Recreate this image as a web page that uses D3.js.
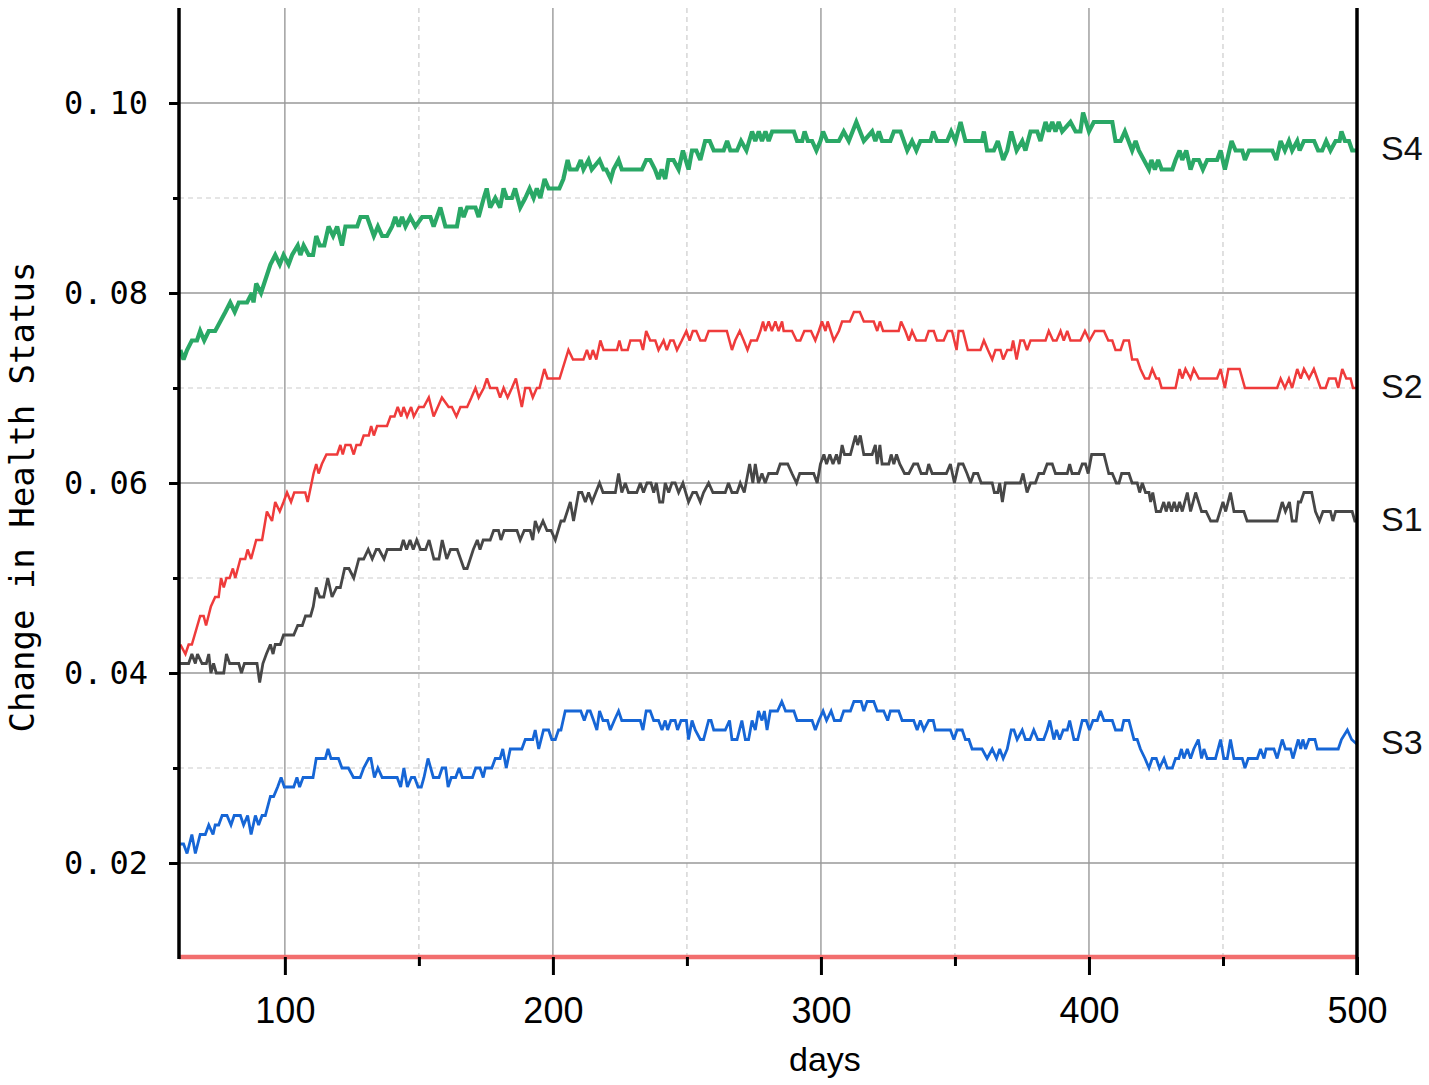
<!DOCTYPE html>
<html><head><meta charset="utf-8">
<script src="https://cdn.jsdelivr.net/npm/d3@7/dist/d3.min.js"></script>
<style>body{margin:0;background:#fff;} svg{display:block;}</style>
</head><body>
<svg id="chart" width="1429" height="1085"></svg>
<script>
// ---------- data: [day, change in health status] ----------
const s4 = [[61,0.074],[62.2,0.073],[63.5,0.074],[65.3,0.075],[67.2,0.075],[68.4,0.076],[69.9,0.075],[71.6,0.076],[74,0.076],[75.9,0.077],[77.8,0.078],[79.6,0.079],[81.3,0.078],[82.8,0.079],[85.9,0.079],[87.7,0.080],[88.3,0.079],[89.3,0.081],[91.1,0.080],[94.6,0.083],[96.4,0.084],[98.1,0.083],[99.5,0.084],[101.4,0.083],[102.7,0.084],[104.8,0.085],[105.8,0.084],[107,0.085],[108.9,0.084],[110.5,0.084],[111.7,0.086],[113,0.085],[114.7,0.085],[116.3,0.087],[118,0.086],[119.5,0.087],[121.3,0.085],[122.6,0.087],[127,0.087],[128.2,0.088],[130.7,0.088],[133.2,0.086],[134.7,0.087],[136.3,0.086],[138.1,0.086],[140,0.087],[141.2,0.088],[142.5,0.087],[143.7,0.088],[145,0.087],[146.8,0.088],[148.7,0.087],[151.2,0.088],[154.3,0.088],[155.5,0.087],[158,0.089],[159.9,0.087],[164.2,0.087],[165.5,0.089],[166.7,0.088],[168,0.089],[171.1,0.089],[172.3,0.088],[174.2,0.090],[175.3,0.091],[176.6,0.089],[178.5,0.090],[180.3,0.089],[181.6,0.091],[182.8,0.090],[184.7,0.090],[185.9,0.091],[187.8,0.089],[189.7,0.090],[191.3,0.091],[192.8,0.090],[194,0.091],[195.3,0.090],[196.9,0.092],[198.4,0.091],[202.4,0.091],[203.9,0.092],[205.5,0.094],[206.4,0.093],[208.9,0.093],[210.4,0.094],[211.4,0.093],[213.3,0.094],[214.5,0.093],[217.4,0.094],[218.9,0.093],[219.9,0.093],[221.6,0.092],[222.6,0.093],[224.5,0.094],[225.7,0.093],[233.2,0.093],[234.8,0.094],[236.3,0.094],[238.1,0.093],[239.4,0.092],[240.6,0.093],[241.9,0.092],[243.1,0.094],[245,0.094],[246.9,0.093],[248.5,0.095],[250.6,0.093],[251.9,0.095],[253.5,0.095],[255,0.094],[256.8,0.096],[258.5,0.096],[260,0.095],[263.7,0.095],[265,0.096],[266.2,0.095],[268.7,0.095],[270.2,0.096],[272.2,0.095],[274.3,0.097],[275.5,0.096],[276.8,0.097],[278,0.096],[279.3,0.097],[280.5,0.096],[281.8,0.097],[283,0.097],[289.9,0.097],[291.1,0.096],[293,0.096],[293.9,0.097],[295.1,0.096],[296.7,0.096],[298.3,0.095],[299.8,0.096],[300.8,0.097],[302.3,0.096],[306.7,0.096],[308.5,0.097],[310.4,0.096],[313.2,0.098],[316,0.096],[319.1,0.097],[320.3,0.096],[321.6,0.097],[322.8,0.096],[325.9,0.096],[327.2,0.097],[329.7,0.097],[332.2,0.095],[334,0.096],[335.6,0.095],[337.1,0.096],[340.9,0.096],[341.9,0.097],[343.3,0.096],[347.1,0.096],[348.6,0.097],[350.2,0.096],[352.1,0.098],[353.9,0.096],[360.1,0.096],[360.8,0.097],[362,0.095],[364.5,0.095],[366,0.096],[368,0.094],[369.5,0.095],[371,0.097],[373,0.095],[375.1,0.096],[376.3,0.095],[378.2,0.097],[380.7,0.097],[381.9,0.096],[383.8,0.098],[385,0.097],[386.3,0.098],[387.5,0.097],[388.7,0.098],[390,0.097],[393.1,0.098],[395,0.097],[396.8,0.097],[397.8,0.099],[400,0.097],[401.8,0.098],[408.7,0.098],[409.9,0.096],[411.8,0.096],[413.4,0.097],[416.1,0.095],[417.4,0.096],[418.6,0.095],[420.5,0.094],[422.4,0.093],[423.3,0.094],[424.6,0.093],[425.8,0.094],[427.1,0.093],[431.1,0.093],[432.3,0.094],[433.8,0.095],[434.8,0.094],[436.3,0.095],[437.9,0.093],[439.1,0.094],[441,0.094],[442.5,0.093],[444.1,0.094],[447.8,0.094],[449.1,0.095],[450.7,0.093],[453.2,0.096],[454.7,0.095],[457.2,0.095],[458.2,0.094],[459.7,0.095],[468.4,0.095],[469.9,0.094],[471.5,0.096],[473.1,0.095],[474.6,0.096],[475.8,0.095],[477.7,0.096],[478.6,0.095],[480.2,0.096],[484,0.096],[485.5,0.095],[487,0.095],[488.5,0.096],[490.1,0.095],[492,0.096],[493.5,0.096],[494.2,0.097],[495.5,0.096],[497,0.096],[498.2,0.095],[500,0.095]];

const s2 = [[61,0.043],[62.9,0.042],[64.1,0.043],[65.3,0.043],[68.4,0.046],[69.7,0.046],[70.6,0.045],[72.4,0.047],[74,0.048],[75.3,0.048],[76.2,0.050],[77.2,0.049],[78.2,0.050],[79.4,0.050],[80.6,0.051],[81.5,0.050],[83.4,0.052],[85.2,0.052],[86.1,0.053],[87.4,0.052],[89.3,0.054],[91.5,0.054],[93.3,0.057],[95.2,0.056],[96.4,0.058],[98.1,0.057],[99.5,0.058],[100.8,0.059],[102.3,0.058],[103.5,0.059],[107.6,0.059],[108.5,0.058],[110.7,0.061],[111.7,0.062],[112.6,0.061],[113.8,0.062],[115.5,0.063],[119.5,0.063],[120.7,0.064],[121.6,0.063],[122.6,0.064],[124.5,0.064],[125.7,0.063],[126.7,0.064],[128.2,0.064],[129.4,0.065],[131.3,0.065],[132.2,0.066],[133.2,0.065],[134.4,0.066],[138.1,0.066],[139.4,0.067],[140.9,0.067],[142.1,0.068],[143.4,0.067],[144.3,0.068],[145.6,0.067],[147.1,0.068],[148.1,0.067],[150,0.068],[151.8,0.068],[153.7,0.069],[155.5,0.067],[158.6,0.069],[161.1,0.068],[162.3,0.068],[164,0.067],[165.5,0.068],[168,0.068],[169.6,0.069],[171.1,0.070],[172.3,0.069],[174.2,0.070],[175.4,0.071],[176.6,0.070],[179.1,0.070],[180.3,0.069],[181.6,0.070],[183.1,0.069],[184.7,0.070],[186.2,0.071],[188.4,0.068],[189.7,0.070],[191.3,0.070],[192.5,0.069],[194,0.070],[195,0.070],[196.8,0.072],[198,0.071],[202.5,0.071],[205.8,0.074],[207.5,0.073],[211.4,0.073],[212.7,0.074],[213.9,0.073],[214.9,0.074],[216.2,0.073],[217.7,0.075],[218.9,0.074],[223.9,0.074],[224.8,0.075],[225.7,0.074],[227.9,0.074],[228.9,0.075],[232.6,0.075],[233.6,0.074],[234.8,0.076],[236.3,0.075],[238.2,0.075],[239.4,0.074],[241.3,0.075],[242.5,0.074],[243.8,0.075],[245,0.075],[246.3,0.074],[248.1,0.075],[249.8,0.076],[251,0.075],[252.2,0.076],[253.5,0.076],[255,0.075],[256.8,0.075],[258.1,0.076],[264.9,0.076],[266.8,0.074],[268,0.075],[269.7,0.076],[271.2,0.075],[272.6,0.074],[273.9,0.075],[276.1,0.075],[277.4,0.076],[278.4,0.077],[279.2,0.076],[280.5,0.077],[281.7,0.076],[283,0.077],[284.2,0.076],[285.5,0.077],[286.1,0.076],[289.2,0.076],[290.9,0.075],[292.3,0.075],[293.8,0.076],[296.3,0.076],[297.9,0.075],[299.2,0.076],[300.4,0.077],[301.7,0.076],[302.5,0.077],[304.8,0.075],[306.7,0.076],[307.9,0.077],[310.8,0.077],[312.3,0.078],[314.5,0.078],[316,0.077],[319.7,0.077],[321,0.076],[322,0.077],[323.2,0.076],[329,0.076],[329.9,0.077],[331.5,0.076],[332.8,0.075],[334,0.076],[335.6,0.075],[339,0.075],[340.2,0.076],[342.1,0.076],[343.3,0.075],[345.8,0.075],[347.3,0.076],[348.9,0.076],[350.6,0.074],[351.4,0.076],[353,0.076],[354.8,0.074],[359.5,0.074],[360.8,0.075],[362.3,0.074],[363.9,0.073],[365.1,0.074],[367,0.074],[368,0.073],[369.5,0.074],[371,0.074],[371.7,0.075],[373,0.073],[374.4,0.075],[375.7,0.075],[376.9,0.074],[378.2,0.075],[383.8,0.075],[385,0.076],[386.6,0.075],[387.9,0.075],[389.4,0.076],[390.6,0.075],[391.9,0.076],[393.1,0.075],[396.8,0.075],[398.5,0.076],[400.2,0.075],[402.2,0.076],[405.6,0.076],[407.2,0.075],[408.7,0.075],[409.9,0.074],[411.8,0.074],[413,0.075],[414.9,0.075],[416.1,0.073],[418,0.073],[419.2,0.072],[420.9,0.071],[422.4,0.071],[423.6,0.072],[425.1,0.071],[426.1,0.071],[427.1,0.070],[432.3,0.070],[433.8,0.072],[434.8,0.071],[436,0.072],[437.9,0.071],[439.1,0.072],[441,0.071],[447.8,0.071],[449.1,0.072],[450.7,0.070],[452,0.072],[456.2,0.072],[458.2,0.070],[470.2,0.070],[471.5,0.071],[473.1,0.070],[474.6,0.071],[475.8,0.070],[477.7,0.072],[479,0.071],[480.2,0.072],[482.1,0.071],[483.9,0.072],[486.4,0.070],[488.3,0.070],[489.5,0.071],[492,0.071],[493,0.070],[494.5,0.072],[496,0.071],[497.6,0.071],[498.5,0.070],[500,0.070]];

const s1 = [[61,0.041],[64.1,0.041],[65.3,0.042],[66.6,0.041],[67.4,0.042],[69.1,0.041],[70.7,0.041],[71.6,0.042],[72.4,0.040],[73.4,0.041],[74.4,0.040],[77.2,0.040],[78.2,0.042],[79.4,0.041],[82.8,0.041],[83.8,0.040],[84.9,0.041],[89.6,0.041],[90.6,0.039],[91.8,0.041],[93.1,0.042],[94.6,0.043],[95.6,0.042],[96.4,0.043],[98.3,0.043],[99.5,0.044],[103.3,0.044],[104.8,0.045],[106.5,0.045],[107.7,0.046],[109.6,0.046],[110.6,0.047],[111.7,0.049],[113,0.048],[114.5,0.048],[116,0.050],[117.6,0.048],[119.3,0.049],[120.7,0.049],[122.3,0.051],[123.9,0.051],[125.7,0.050],[127.6,0.052],[129.4,0.052],[131.1,0.053],[132.6,0.052],[134.1,0.053],[135.1,0.053],[137,0.052],[138.2,0.053],[143.2,0.053],[144.2,0.054],[145.4,0.053],[146.7,0.054],[147.9,0.053],[149.2,0.054],[150.6,0.053],[152.5,0.053],[153.8,0.054],[155.6,0.052],[157.5,0.052],[158.7,0.054],[160.4,0.052],[161.8,0.053],[164.3,0.053],[166.8,0.051],[168,0.051],[170.3,0.053],[171.8,0.054],[172.8,0.053],[174,0.054],[176.6,0.054],[177.9,0.055],[179.7,0.055],[180.6,0.054],[181.8,0.055],[186.6,0.055],[187.8,0.054],[189.3,0.055],[191.5,0.055],[192.5,0.054],[193.4,0.056],[194.7,0.055],[196.3,0.056],[197.8,0.055],[199.3,0.055],[200.9,0.054],[203,0.056],[204.2,0.056],[206.5,0.058],[207.7,0.056],[209.6,0.059],[210.8,0.059],[212.1,0.058],[213.3,0.059],[214.6,0.058],[217.4,0.060],[218.7,0.059],[223.3,0.059],[224.5,0.061],[225.7,0.059],[227,0.060],[228.2,0.059],[231.3,0.059],[232.6,0.060],[233.8,0.059],[235.1,0.060],[236.6,0.060],[237.6,0.059],[238.6,0.060],[239.8,0.058],[241,0.058],[241.9,0.060],[243.2,0.059],[244.4,0.060],[245.6,0.060],[246.9,0.059],[248.5,0.060],[250.6,0.058],[252.2,0.059],[253.5,0.059],[255,0.058],[256.2,0.059],[258.1,0.060],[259.7,0.059],[264.3,0.059],[265.5,0.060],[266.8,0.059],[268.7,0.059],[269.9,0.060],[271.4,0.059],[273.4,0.062],[274.6,0.060],[275.5,0.062],[276.7,0.060],[278,0.061],[279.2,0.060],[280.5,0.061],[283.6,0.061],[284.8,0.062],[287.6,0.062],[289.2,0.061],[290.9,0.060],[292.1,0.061],[297.3,0.061],[298.6,0.060],[299.8,0.062],[301.1,0.063],[302.1,0.062],[303.3,0.063],[304.5,0.062],[305.8,0.063],[306.8,0.062],[307.9,0.064],[308.8,0.063],[311,0.063],[312.9,0.065],[313.7,0.064],[314.7,0.065],[316,0.063],[319.1,0.063],[320.3,0.064],[321,0.062],[322,0.064],[322.8,0.062],[325.3,0.062],[326.2,0.063],[327.2,0.062],[328.2,0.063],[329.4,0.062],[331.2,0.061],[332.8,0.061],[334.6,0.062],[336.1,0.062],[337.4,0.061],[339.4,0.061],[340.2,0.062],[341.5,0.061],[346.8,0.061],[348.3,0.062],[349.8,0.060],[351.4,0.062],[353,0.062],[354.5,0.061],[355.8,0.060],[357,0.061],[358.5,0.061],[359.8,0.060],[363.9,0.060],[364.7,0.059],[366,0.059],[366.7,0.060],[367.7,0.058],[368.8,0.060],[374.4,0.060],[375.4,0.061],[376.9,0.059],[378.2,0.060],[380,0.060],[381.3,0.061],[383.1,0.061],[384.4,0.062],[386.3,0.062],[387.5,0.061],[391.9,0.061],[392.8,0.062],[393.7,0.061],[396.2,0.061],[397.5,0.062],[398.7,0.062],[399.7,0.061],[401,0.063],[405.6,0.063],[407.4,0.061],[408.7,0.061],[410.2,0.060],[411.2,0.060],[412.2,0.061],[414.9,0.061],[416.1,0.060],[418,0.060],[418.9,0.059],[419.9,0.060],[421.1,0.059],[422.4,0.059],[423,0.058],[423.8,0.059],[425.1,0.057],[426.7,0.057],[427.9,0.058],[428.8,0.057],[429.8,0.058],[430.8,0.057],[431.8,0.058],[432.8,0.057],[433.8,0.058],[434.8,0.057],[436.7,0.059],[437.9,0.057],[439.8,0.059],[442,0.057],[443.7,0.057],[445.4,0.056],[447.8,0.056],[450,0.058],[451,0.057],[452.8,0.059],[454.1,0.057],[457.8,0.057],[459,0.056],[470.2,0.056],[472.1,0.058],[473.3,0.057],[474.8,0.058],[475.8,0.056],[477.3,0.056],[478.1,0.058],[479,0.058],[480.2,0.059],[483.1,0.059],[484.5,0.057],[486,0.056],[487.3,0.057],[490.1,0.057],[491,0.056],[492,0.057],[498.2,0.057],[499.2,0.056],[500,0.056]];

const s3 = [[61,0.022],[62.2,0.022],[63.5,0.021],[65.3,0.023],[66.6,0.021],[68.4,0.023],[70.3,0.023],[71.6,0.024],[73.2,0.023],[74,0.024],[75.3,0.024],[76.6,0.025],[78.4,0.025],[79.9,0.024],[81.1,0.025],[83.4,0.025],[84.6,0.024],[86.1,0.025],[87.4,0.023],[89,0.025],[90.2,0.024],[91.5,0.025],[92.7,0.025],[94.6,0.027],[95.8,0.027],[97.3,0.028],[98.6,0.029],[99.8,0.028],[103.3,0.028],[104.5,0.029],[105.5,0.028],[106.8,0.029],[110.5,0.029],[111.7,0.031],[115.1,0.031],[116.1,0.032],[117.2,0.031],[120,0.031],[121.3,0.030],[123.7,0.030],[125.6,0.029],[128.1,0.029],[129.4,0.030],[131.3,0.031],[132.1,0.031],[133.4,0.029],[134.7,0.030],[136.3,0.029],[141.9,0.029],[143.2,0.028],[144.4,0.030],[145.7,0.028],[147.2,0.029],[148.4,0.029],[149.7,0.028],[150.9,0.028],[151.9,0.029],[153.4,0.031],[155.4,0.029],[157.5,0.029],[158.7,0.030],[160,0.030],[160.9,0.028],[162.1,0.029],[163.7,0.029],[165,0.030],[166.2,0.029],[170,0.029],[171.2,0.030],[172.8,0.030],[174,0.029],[174.8,0.030],[177.2,0.030],[178.5,0.031],[180.3,0.031],[181.3,0.032],[182.6,0.030],[184.1,0.032],[188.4,0.032],[189.7,0.033],[192.5,0.033],[193.4,0.034],[194.7,0.032],[196.5,0.034],[198.4,0.034],[199.6,0.033],[200.9,0.033],[202.1,0.034],[203,0.034],[204.6,0.036],[210.4,0.036],[211.7,0.035],[212.9,0.036],[213.9,0.036],[215.2,0.035],[216.4,0.034],[217.4,0.036],[218.7,0.035],[220.4,0.035],[221.4,0.034],[222.9,0.035],[224.5,0.036],[225.7,0.035],[232.6,0.035],[233.6,0.034],[234.8,0.036],[236.3,0.036],[237.6,0.035],[239.4,0.035],[240.7,0.034],[241.9,0.035],[242.8,0.034],[244,0.035],[245.6,0.035],[246.5,0.034],[247.8,0.035],[249.8,0.035],[250.6,0.033],[251.9,0.035],[253.1,0.034],[255,0.033],[256.2,0.033],[258.1,0.035],[259,0.035],[260,0.034],[264.3,0.034],[265.9,0.035],[266.8,0.033],[268.7,0.033],[270.5,0.035],[271.8,0.033],[273,0.033],[274.3,0.035],[275.5,0.034],[276.7,0.036],[278,0.035],[278.9,0.036],[279.9,0.034],[281.1,0.036],[282.3,0.036],[283.8,0.036],[285.4,0.037],[286.8,0.036],[289.9,0.036],[291.1,0.035],[296.7,0.035],[297.9,0.034],[299.2,0.035],[300.8,0.036],[302.1,0.035],[303.8,0.036],[305,0.035],[307.3,0.035],[308.5,0.036],[311,0.036],[312.3,0.037],[315,0.037],[316,0.036],[317.2,0.037],[319.7,0.037],[321,0.036],[323.4,0.036],[324.9,0.035],[325.9,0.036],[329,0.036],[330.3,0.035],[334.6,0.035],[335.9,0.034],[337.1,0.035],[338.4,0.034],[340.2,0.035],[341.9,0.035],[342.7,0.034],[348.3,0.034],[349.6,0.033],[350.8,0.034],[352.7,0.034],[353.9,0.033],[355.2,0.033],[356.4,0.032],[360.1,0.032],[362,0.031],[363.9,0.032],[365.5,0.031],[366.7,0.032],[368,0.031],[369.5,0.032],[371,0.034],[372,0.034],[373.2,0.033],[375.1,0.034],[376.3,0.033],[378,0.033],[379.4,0.034],[380.9,0.033],[383.1,0.033],[384.4,0.034],[385.4,0.035],[386.9,0.033],[387.9,0.034],[389.1,0.033],[390.4,0.034],[391.9,0.034],[392.8,0.035],[394.4,0.033],[395.8,0.033],[397.5,0.035],[399,0.035],[400.2,0.034],[401.5,0.035],[403.1,0.035],[404.3,0.036],[405.6,0.035],[408.7,0.035],[409.9,0.034],[412.2,0.034],[413,0.035],[414.9,0.035],[416.8,0.033],[418,0.033],[419.2,0.032],[420.9,0.031],[422.4,0.030],[423.6,0.031],[425.1,0.031],[426.3,0.030],[428,0.031],[429.2,0.030],[431.1,0.030],[432.3,0.031],[433.5,0.031],[434.5,0.032],[435.4,0.031],[436.7,0.032],[437.9,0.031],[439.1,0.032],[440.8,0.033],[442,0.031],[442.9,0.032],[444.1,0.031],[447.2,0.031],[449.1,0.033],[450.3,0.031],[451.6,0.031],[452.8,0.033],[454.1,0.031],[457.2,0.031],[458.2,0.030],[459.4,0.031],[462.8,0.031],[464,0.032],[465.3,0.031],[466.1,0.032],[469,0.032],[470.2,0.031],[472.1,0.033],[473.3,0.032],[475.2,0.032],[476.1,0.031],[478.1,0.033],[479,0.032],[479.8,0.033],[480.8,0.032],[482.1,0.033],[484.3,0.033],[485.2,0.032],[493,0.032],[494.2,0.033],[496.4,0.034],[498,0.033],[500,0.0325]];

const seriesNames  = ["S1", "S2", "S3", "S4"];
const seriesData   = [s1, s2, s3, s4];
const seriesColors = ["#474747", "#ef3b3b", "#1666d6", "#2aa866"];
const seriesWidths = [2.8, 2.5, 2.8, 4.2];

const xMajorTicks = [100, 200, 300, 400, 500];
const xMinorTicks = [150, 250, 350, 450];
const yMajorTicks = [0.02, 0.04, 0.06, 0.08, 0.10];
const yMinorTicks = [0.03, 0.05, 0.07, 0.09];
const xTitle = "days";
const yTitle = "Change in Health Status";

// ---------- scales ----------
const x = d3.scaleLinear().domain([60.5, 500]).range([179, 1357]);
const y = d3.scaleLinear().domain([0.01, 0.11]).range([958, 8]);
const svg = d3.select("#chart");

// ---------- grid ----------
const grid = svg.append("g");
grid.selectAll("line.xmin").data(xMinorTicks).join("line").attr("class","xmin")
  .attr("x1", d => x(d)).attr("x2", d => x(d)).attr("y1", y(0.11)).attr("y2", y(0.01))
  .attr("stroke", "#cccccc").attr("stroke-width", 1.2).attr("stroke-dasharray", "5,4");
grid.selectAll("line.ymin").data(yMinorTicks).join("line").attr("class","ymin")
  .attr("x1", x.range()[0]).attr("x2", x.range()[1]).attr("y1", d => y(d)).attr("y2", d => y(d))
  .attr("stroke", "#cccccc").attr("stroke-width", 1.2).attr("stroke-dasharray", "5,4");
grid.selectAll("line.xmaj").data(xMajorTicks).join("line").attr("class","xmaj")
  .attr("x1", d => x(d)).attr("x2", d => x(d)).attr("y1", y(0.11)).attr("y2", y(0.01))
  .attr("stroke", "#999999").attr("stroke-width", 1.4);
grid.selectAll("line.ymaj").data(yMajorTicks).join("line").attr("class","ymaj")
  .attr("x1", x.range()[0]).attr("x2", x.range()[1]).attr("y1", d => y(d)).attr("y2", d => y(d))
  .attr("stroke", "#999999").attr("stroke-width", 1.4);

// ---------- lines ----------
const line = d3.line().x(d => x(d[0])).y(d => y(d[1]));
svg.append("g").selectAll("path").data(seriesData).join("path")
  .attr("d", line).attr("fill", "none")
  .attr("stroke", (d, i) => seriesColors[i])
  .attr("stroke-width", (d, i) => seriesWidths[i])
  .attr("stroke-linejoin", "miter").attr("stroke-miterlimit", 3);

// ---------- series labels ----------
svg.append("g").selectAll("text").data(seriesData).join("text")
  .attr("x", 1381).attr("y", d => y(d[d.length - 1][1]))
  .attr("dy", "0.28em")
  .attr("font-family", "'Liberation Sans', Arial, sans-serif").attr("font-size", 34)
  .attr("fill", "#111")
  .text((d, i) => seriesNames[i]);

// ---------- bottom (red) axis line ----------
svg.append("line").attr("x1", x.range()[0]).attr("x2", x.range()[1])
  .attr("y1", y(0.01) - 1).attr("y2", y(0.01) - 1)
  .attr("stroke", "#f26e6e").attr("stroke-width", 4.5);

// ---------- x axis ticks ----------
const xAxis = svg.append("g").attr("transform", `translate(0,${y(0.01) - 1})`)
  .call(d3.axisBottom(x).tickValues(xMajorTicks).tickSize(18).tickPadding(22).tickFormat(d3.format("d")));
xAxis.select(".domain").remove();
xAxis.selectAll(".tick line").attr("stroke", "#000").attr("stroke-width", 3);
xAxis.selectAll(".tick text").attr("font-family", "'Liberation Sans', Arial, sans-serif")
  .attr("font-size", 36).attr("fill", "#000").attr("dy", "0.71em");
const xAxisMinor = svg.append("g").attr("transform", `translate(0,${y(0.01) - 1})`)
  .call(d3.axisBottom(x).tickValues(xMinorTicks).tickSize(9).tickFormat(""));
xAxisMinor.select(".domain").remove();
xAxisMinor.selectAll(".tick line").attr("stroke", "#000").attr("stroke-width", 3);

// ---------- y axis ----------
const yAxis = svg.append("g").attr("transform", `translate(${x.range()[0]},0)`)
  .call(d3.axisLeft(y).tickValues(yMajorTicks).tickSize(10).tickPadding(21).tickFormat(d3.format(".2f")));
yAxis.select(".domain").remove();
yAxis.selectAll(".tick line").attr("stroke", "#000").attr("stroke-width", 3);
yAxis.selectAll(".tick text").each(function(d) {
  const t = d3.select(this);
  const s = d3.format(".2f")(d);
  const parts = s.split(".");
  t.text(null);
  t.append("tspan").text(parts[0] + ".");
  t.append("tspan").attr("dx", 7).text(parts[1]);
}).attr("font-family", "'DejaVu Sans Mono', 'Liberation Mono', monospace")
  .attr("font-size", 32).attr("fill", "#000");
const yAxisMinor = svg.append("g").attr("transform", `translate(${x.range()[0]},0)`)
  .call(d3.axisLeft(y).tickValues(yMinorTicks).tickSize(6).tickFormat(""));
yAxisMinor.select(".domain").remove();
yAxisMinor.selectAll(".tick line").attr("stroke", "#000").attr("stroke-width", 3);

// ---------- frame (left and right black borders) ----------
svg.append("line").attr("x1", 179).attr("x2", 179).attr("y1", y(0.11)).attr("y2", y(0.01) + 1)
  .attr("stroke", "#000").attr("stroke-width", 3.5);
svg.append("line").attr("x1", x(500)).attr("x2", x(500)).attr("y1", y(0.11)).attr("y2", y(0.01) + 17)
  .attr("stroke", "#000").attr("stroke-width", 3.5);

// ---------- titles ----------
svg.append("text").attr("x", x(300) + 4).attr("y", 1071)
  .attr("text-anchor", "middle")
  .attr("font-family", "'Liberation Sans', Arial, sans-serif").attr("font-size", 34)
  .attr("fill", "#000").text(xTitle);
svg.append("text").attr("transform", `translate(34,497) rotate(-90)`)
  .attr("text-anchor", "middle")
  .attr("font-family", "'DejaVu Sans Mono', 'Liberation Mono', monospace").attr("font-size", 34)
  .attr("fill", "#000").text(yTitle);
</script>
</body></html>
